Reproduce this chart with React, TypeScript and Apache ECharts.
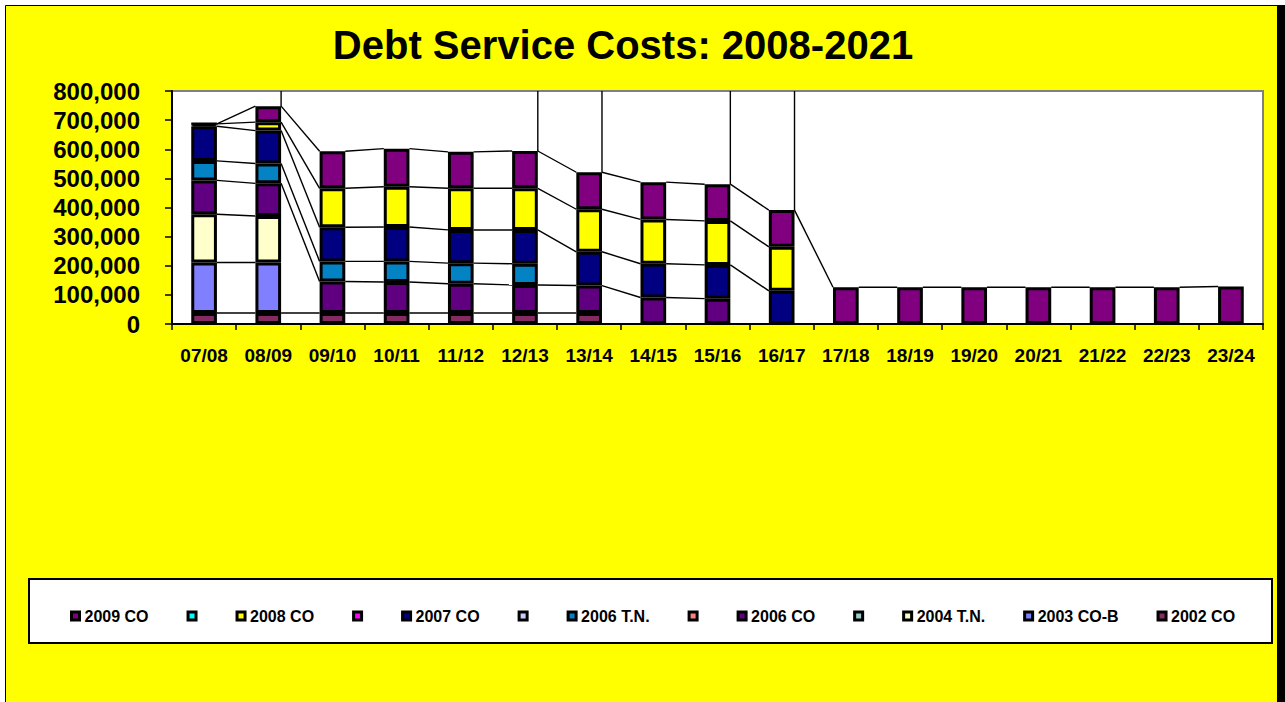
import React, { useEffect, useRef } from "react";
import * as echarts from "echarts";

const categories = ["07/08", "08/09", "09/10", "10/11", "11/12", "12/13", "13/14", "14/15", "15/16", "16/17", "17/18", "18/19", "19/20", "20/21", "21/22", "22/23", "23/24"];

const co2002 = [38000, 38000, 38000, 38000, 38000, 38000, 38000, null, null, null, null, null, null, null, null, null, null];
const co2003B = [173000, 173000, null, null, null, null, null, null, null, null, null, null, null, null, null, null, null];
const tn2004 = [166000, 160000, null, null, null, null, null, null, null, null, null, null, null, null, null, null, null];
const co2006 = [116000, 112000, 108000, 106000, 100000, 96000, 94000, 91000, 87000, null, null, null, null, null, null, null, null];
const tn2006 = [67000, 68000, 69000, 71000, 71000, 73000, null, null, null, null, null, null, null, null, null, null, null];
const co2007 = [119000, 113000, 117000, 118000, 114000, 116000, 116000, 116000, 116000, 114000, null, null, null, null, null, null, null];
const co2008 = [8000, 29000, 134000, 138000, 143000, 143000, 146000, 152000, 151000, 151000, null, null, null, null, null, null, null];
const co2009 = [0, 55000, 127000, 131000, 125000, 128000, 127000, 128000, 126000, 126000, 126000, 126000, 126000, 126000, 126000, 126000, 129000];
const blank = categories.map(() => null);

const yTicks = { min: 0, max: 800000, interval: 100000 };

// stacking order, bottom to top
const stackSeries = [
  { name: "2002 CO", data: co2002, color: "#862A62" },
  { name: "2003 CO-B", data: co2003B, color: "#8080FF" },
  { name: "2004 T.N.", data: tn2004, color: "#FFFFCC" },
  { name: "b5", data: blank, color: "#99CCCC" },
  { name: "2006 CO", data: co2006, color: "#600080" },
  { name: "b4", data: blank, color: "#FF8080" },
  { name: "2006 T.N.", data: tn2006, color: "#0382C4" },
  { name: "b3", data: blank, color: "#CCCCFF" },
  { name: "2007 CO", data: co2007, color: "#000080" },
  { name: "b2", data: blank, color: "#FF00FF" },
  { name: "2008 CO", data: co2008, color: "#FFFF00" },
  { name: "b1", data: blank, color: "#00FFFF" },
  { name: "2009 CO", data: co2009, color: "#800080" },
];

const legendOrder = ["2009 CO", "b1", "2008 CO", "b2", "2007 CO", "b3", "2006 T.N.", "b4", "2006 CO", "b5", "2004 T.N.", "2003 CO-B", "2002 CO"];

function buildSeriesLines() {
  const n = categories.length;
  const cum: (number | null)[][] = stackSeries.map(() => new Array(n).fill(null));
  const totals: number[] = new Array(n).fill(0);
  for (let i = 0; i < n; i++) {
    let acc = 0;
    stackSeries.forEach((s, k) => {
      const v = s.data[i];
      if (v !== null && v !== undefined) {
        acc += v as number;
        cum[k][i] = acc;
      }
    });
    totals[i] = acc;
  }
  const lines: number[][] = [];
  for (let i = 0; i < n - 1; i++) {
    let ends = false;
    stackSeries.forEach((s, k) => {
      const a = cum[k][i];
      const b = cum[k][i + 1];
      if (a !== null && b !== null) lines.push([i, a, i + 1, b, 1, -1]);
      if (a !== null && b === null) ends = true;
    });
    if (ends) lines.push([i, totals[i], i, yTicks.max, 1, 1]);
  }
  return lines;
}

const FONT = "'Liberation Sans', Arial, sans-serif";

export default function App() {
  const ref = useRef<HTMLDivElement>(null);
  useEffect(() => {
    if (!ref.current) return;
    const chart = echarts.init(ref.current, null, { renderer: "svg" });
    const barSeries = stackSeries.map((s) => ({
      name: s.name,
      type: "bar",
      stack: "total",
      data: s.data,
      barCategoryGap: "60%",
      itemStyle: { color: s.color, borderColor: "#000", borderWidth: 3 },
      z: 3,
    }));
    chart.setOption({
      animation: false,
      backgroundColor: "#fff",
      title: {
        text: "Debt Service Costs: 2008-2021",
        left: 618,
        top: 20,
        textAlign: "center",
        textStyle: { fontFamily: FONT, fontWeight: "bold", fontSize: 40, color: "#000" },
      },
      graphic: [
        {
          type: "rect",
          z: -10,
          silent: true,
          shape: { x: 5.5, y: 5.5, width: 1272, height: 710 },
          style: { fill: "#FFFF00", stroke: "#000", lineWidth: 1 },
        },
        {
          type: "rect",
          z: -9,
          silent: true,
          shape: { x: 1277, y: 5, width: 8, height: 697 },
          style: { fill: "#000" },
        },
        {
          type: "rect",
          z: -8,
          silent: true,
          shape: { x: 29, y: 579, width: 1243, height: 64 },
          style: { fill: "#fff", stroke: "#000", lineWidth: 2 },
        },
      ],
      legend: {
        data: legendOrder,
        left: 65,
        top: 603,
        itemGap: 38,
        itemWidth: 8,
        itemHeight: 8,
        icon: "rect",
        itemStyle: { borderColor: "#000", borderWidth: 3 },
        formatter: (name: string) => (/^b\d$/.test(name) ? "" : name),
        textStyle: { fontFamily: FONT, fontWeight: "bold", fontSize: 16, color: "#000" },
        z: 5,
      },
      grid: {
        left: 172,
        right: 22,
        top: 91,
        bottom: 378,
        show: true,
        backgroundColor: "#fff",
        borderColor: "#808080",
        borderWidth: 2,
      },
      xAxis: {
        type: "category",
        data: categories,
        axisLine: { lineStyle: { color: "#000", width: 2 } },
        axisTick: { show: true, length: 6, lineStyle: { color: "#000", width: 1.5 } },
        axisLabel: { interval: 0, margin: 22, fontFamily: FONT, fontWeight: "bold", fontSize: 19, color: "#000" },
      },
      yAxis: {
        type: "value",
        min: yTicks.min,
        max: yTicks.max,
        interval: yTicks.interval,
        splitLine: { show: false },
        axisLine: { show: true, lineStyle: { color: "#000", width: 2 } },
        axisTick: { show: true, length: 7, lineStyle: { color: "#000", width: 1.5 } },
        axisLabel: {
          margin: 32,
          fontFamily: FONT,
          fontWeight: "bold",
          fontSize: 24,
          color: "#000",
          formatter: (v: number) => v.toLocaleString("en-US"),
        },
      },
      series: [
        ...barSeries,
        {
          name: "series lines",
          type: "custom",
          silent: true,
          z: 2,
          encode: { x: [0, 2], y: [1, 3] },
          data: buildSeriesLines(),
          renderItem: (params: any, api: any) => {
            const p1 = api.coord([api.value(0), api.value(1)]);
            const p2 = api.coord([api.value(2), api.value(3)]);
            const half = (api.size([1, 0])[0] * 0.4) / 2;
            return {
              type: "line",
              shape: {
                x1: p1[0] + api.value(4) * half,
                y1: p1[1],
                x2: p2[0] + api.value(5) * half,
                y2: p2[1],
              },
              style: { stroke: "#000", lineWidth: 1.4 },
            };
          },
        },
      ],
    });
    return () => chart.dispose();
  }, []);

  return <div ref={ref} style={{ position: "fixed", left: 0, top: 0, width: 1285, height: 702 }} />;
}
